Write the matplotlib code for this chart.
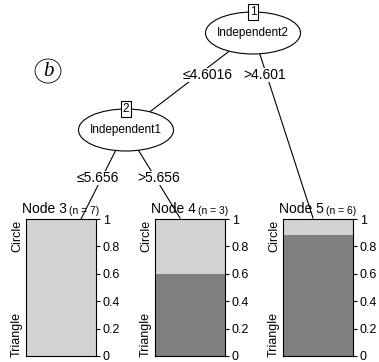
import numpy as np
import matplotlib
matplotlib.use('Agg')
import matplotlib.pyplot as plt
from matplotlib.patches import Ellipse

plt.rcParams['font.family'] = ['Liberation Sans', 'DejaVu Sans']

# Tree data
inner_ids = [1, 2]
inner_vars = ['Independent2', 'Independent1']
split_left = ['\u22644.6016', '\u22645.656']
split_right = ['>4.601', '>5.656']

node_ids = [3, 4, 5]
node_n = [7, 3, 6]
classes = ['Circle', 'Triangle']
triangle_frac = [0.0, 0.6, 0.88]
circle_frac = [1 - t for t in triangle_frac]

light = '#d3d3d3'
dark = '#7f7f82'

W, H = 379, 362
fig = plt.figure(figsize=(W / 100, H / 100), dpi=100)
ax = fig.add_axes([0, 0, 1, 1])
ax.set_xlim(0, W)
ax.set_ylim(H, 0)
ax.axis('off')

# layout in pixels
inner_pos = {1: (253, 33), 2: (126, 130)}
ell_size = (95, 42)
panel_x = [26, 155, 283]
panel_w = 70
panel_top, panel_bot = 219, 356
edge_end = {3: (81, 219), 4: (180, 218), 5: (313, 218)}

# edges
edges = [(1, 2), (1, 5), (2, 3), (2, 4)]
for a, b in edges:
    x0, y0 = inner_pos[a]
    x1, y1 = inner_pos[b] if b in inner_pos else edge_end[b]
    ax.plot([x0, x1], [y0, y1], color='black', lw=0.8, zorder=1)

# edge labels
lab_pos = {1: ((208, 75), (265, 75)), 2: ((98, 178), (159, 178))}
for i, nid in enumerate(inner_ids):
    (lx, ly), (rx, ry) = lab_pos[nid]
    for txt, x, y in [(split_left[i], lx, ly), (split_right[i], rx, ry)]:
        ax.text(x, y, txt, ha='center', va='center', fontsize=10, zorder=3,
                bbox=dict(boxstyle='square,pad=0.0', fc='white', ec='none'))

# inner nodes
for i, nid in enumerate(inner_ids):
    cx, cy = inner_pos[nid]
    ax.add_patch(Ellipse((cx, cy), ell_size[0], ell_size[1], fc='white',
                         ec='black', lw=0.8, zorder=2))
    ax.text(cx, cy, inner_vars[i], ha='center', va='center', fontsize=8.5, zorder=3)
    ax.text(cx, cy - ell_size[1] / 2, str(nid), ha='center', va='center',
            fontsize=8.5, zorder=4,
            bbox=dict(boxstyle='square,pad=0.15', fc='white', ec='black', lw=0.8))

# panel label (b)
ax.add_patch(Ellipse((48, 71), 26, 24, fc='none', ec='black', lw=0.6))
ax.text(48, 71, 'b', ha='center', va='center', fontsize=15,
        family='Liberation Serif', style='italic')

# terminal nodes
for i, nid in enumerate(node_ids):
    x0 = panel_x[i]
    cx = x0 + panel_w / 2
    ax.text(cx + 6, 216, 'Node %d' % nid, ha='right', va='bottom', fontsize=10)
    ax.text(cx + 8, 216, '(n = %d)' % node_n[i], ha='left', va='bottom', fontsize=7.5)

    pax = fig.add_axes([x0 / W, (H - panel_bot) / H, panel_w / W,
                        (panel_bot - panel_top) / H])
    pax.bar([0], [triangle_frac[i]], width=1, color=dark, align='edge')
    pax.bar([0], [circle_frac[i]], bottom=[triangle_frac[i]], width=1,
            color=light, align='edge')
    pax.set_xlim(0, 1)
    pax.set_ylim(0, 1)
    pax.set_xticks([])
    pax.yaxis.tick_right()
    pax.set_yticks([0, 0.2, 0.4, 0.6, 0.8, 1])
    pax.set_yticklabels(['0', '0.2', '0.4', '0.6', '0.8', '1'])
    pax.tick_params(axis='y', length=3, width=0.8, pad=2, labelsize=9)
    for s in pax.spines.values():
        s.set_linewidth(0.8)
    pax.text(-0.13, 0.88, classes[0], rotation=90, ha='center', va='center',
             fontsize=9, transform=pax.transAxes)
    pax.text(-0.13, 0.16, classes[1], rotation=90, ha='center', va='center',
             fontsize=9, transform=pax.transAxes)

fig.savefig('out.png', dpi=100)
